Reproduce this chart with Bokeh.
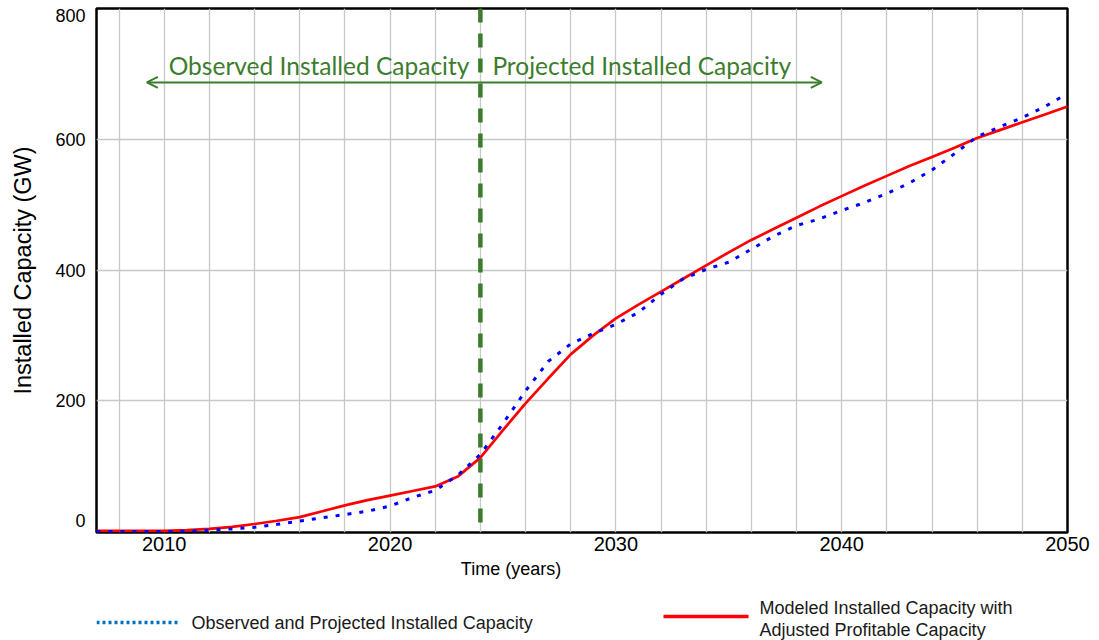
from bokeh.plotting import figure
from bokeh.models import Range1d, FixedTicker, Span, Label, Arrow, OpenHead
from bokeh.layouts import column
from bokeh.embed import file_html
from bokeh.resources import INLINE
from bokeh.core.properties import value

# ---- data -------------------------------------------------------------
years = list(range(2007, 2051))
observed_projected = [0, 0, 0, 0, 0.5, 2, 4, 6.5, 11, 16, 21, 26, 31, 39, 52, 63, 86, 118,
                      165, 215, 260, 287, 303, 317, 335, 363, 387, 401, 412, 432, 452, 468,
                      478, 491, 503, 517, 533, 553, 578, 604, 619, 633, 650, 670]
modeled = [1, 1, 1, 1, 2, 4, 7, 11.5, 16.5, 22, 31, 40, 48, 55, 62, 69, 84, 113,
           155, 196, 234, 271, 300, 326, 347, 367, 387, 407, 427, 446, 463, 480,
           497, 513, 529, 544, 559, 573, 587, 602, 614, 626, 638, 650]
x_ticks = [2010, 2020, 2030, 2040, 2050]
x_grid_years = list(range(2008, 2050, 2))
y_tick_labels = ["0", "200", "400", "600", "800"]
y_grid_values = [200, 400, 600]
series_names = ["Observed and Projected Installed Capacity",
                "Modeled Installed Capacity with\nAdjusted Profitable Capacity"]
x_title = "Time (years)"
projection_start = 2024
region_labels = ["Observed Installed Capacity", "Projected Installed Capacity"]
arrow_span = [2009.23, 2039.12]
arrow_level = 687
region_label_level = 712.8

# where the y labels are anchored (end labels sit just inside the frame, as in the reference)
y_label_positions = [17.6, 200, 400, 600, 789.3]

GREEN = "#3c7d2d"
FONT = "Liberation Sans"
W = 1099
MAIN_H = 560
KEY_H = 80

p = figure(width=W, height=MAIN_H, x_range=Range1d(2007, 2050), y_range=Range1d(-1.5, 800),
           output_backend="svg", toolbar_location=None,
           min_border_top=8, min_border_left=96, min_border_right=32, min_border_bottom=28)
p.background_fill_color = "white"
p.border_fill_color = "white"
p.outline_line_color = "black"
p.outline_line_width = 2.5
p.outline_line_alpha = 1.0

# grids
p.xgrid.ticker = FixedTicker(ticks=x_grid_years)
p.ygrid.ticker = FixedTicker(ticks=y_grid_values)
for g in (p.xgrid, p.ygrid):
    g.grid_line_color = "#c8c8c8"
    g.grid_line_width = 1.3

# axes
p.xaxis.ticker = FixedTicker(ticks=x_ticks)
p.yaxis.ticker = FixedTicker(ticks=y_label_positions)
p.yaxis.major_label_overrides = dict(zip(y_label_positions, y_tick_labels))
for ax in (p.xaxis, p.yaxis):
    ax.axis_line_color = None
    ax.major_tick_line_color = None
    ax.minor_tick_line_color = None
    ax.major_tick_out = 0
    ax.major_tick_in = 0
    ax.major_label_text_font = FONT
    ax.major_label_text_color = "black"
p.xaxis.major_label_text_font_size = "20px"
p.xaxis.major_label_standoff = 4
p.yaxis.major_label_text_font_size = "18px"
p.yaxis.major_label_standoff = 11
p.yaxis.axis_label = "Installed Capacity (GW)"
p.yaxis.axis_label_text_font = FONT
p.yaxis.axis_label_text_font_size = "23.5px"
p.yaxis.axis_label_text_font_style = "normal"
p.yaxis.axis_label_text_color = "black"
p.yaxis.axis_label_standoff = 16

# projection boundary
p.add_layout(Span(location=projection_start, dimension="height", line_color=GREEN,
                  line_width=4.5, line_dash="14 11", level="underlay"))

# data lines
p.line(years, modeled, line_color="#ff0000", line_width=2.7)
p.line(years, observed_projected, line_color="#0000ff", line_width=3, line_dash="4 8")

# arrow + region labels
p.add_layout(Arrow(start=OpenHead(size=11, line_color=GREEN, line_width=2),
                   end=OpenHead(size=11, line_color=GREEN, line_width=2),
                   x_start=arrow_span[0], x_end=arrow_span[1],
                   y_start=arrow_level, y_end=arrow_level,
                   line_color=GREEN, line_width=2))
p.add_layout(Label(x=projection_start, y=region_label_level, x_offset=-11,
                   text=region_labels[0], text_align="right", text_baseline="middle",
                   text_font="Lato", text_font_size="24.5px", text_color=GREEN))
p.add_layout(Label(x=projection_start, y=region_label_level, x_offset=12,
                   text=region_labels[1], text_align="left", text_baseline="middle",
                   text_font="Lato", text_font_size="24.5px", text_color=GREEN))

# ---- key strip below (its frame is aligned with the main frame by the column) ----
# x and y here are page pixels: frame spans x 96..1067, strip spans y 560..640
key = figure(width=W, height=KEY_H, x_range=Range1d(96, 1067),
             y_range=Range1d(MAIN_H + KEY_H, MAIN_H),
             output_backend="svg", toolbar_location=None,
             x_axis_location=None, y_axis_location=None,
             min_border_top=0, min_border_bottom=0, min_border_left=96, min_border_right=32)
key.outline_line_color = None
key.grid.visible = False
key.background_fill_color = "white"
key.border_fill_color = "white"
key.text(x=[510.5], y=[568], text=[x_title], text_align="center", text_baseline="middle",
         text_font=value(FONT), text_font_size="18px", text_color="black")
key.line([96, 177], [622, 622], line_color="#0070c0", line_width=3.3, line_dash="3 3")
key.text(x=[191], y=[622], text=[series_names[0]], text_baseline="middle",
         text_font=value(FONT), text_font_size="18px", text_color="#1a1a1a")
key.line([663, 748], [616, 616], line_color="#ff0000", line_width=3.5)
red_lines = series_names[1].split("\n")
key.text(x=[759, 759], y=[607, 629], text=red_lines, text_baseline="middle",
         text_font=value(FONT), text_font_size="18px", text_color="#1a1a1a")

layout = column(p, key, spacing=0)
open("out.html", "w").write(file_html(layout, INLINE))
